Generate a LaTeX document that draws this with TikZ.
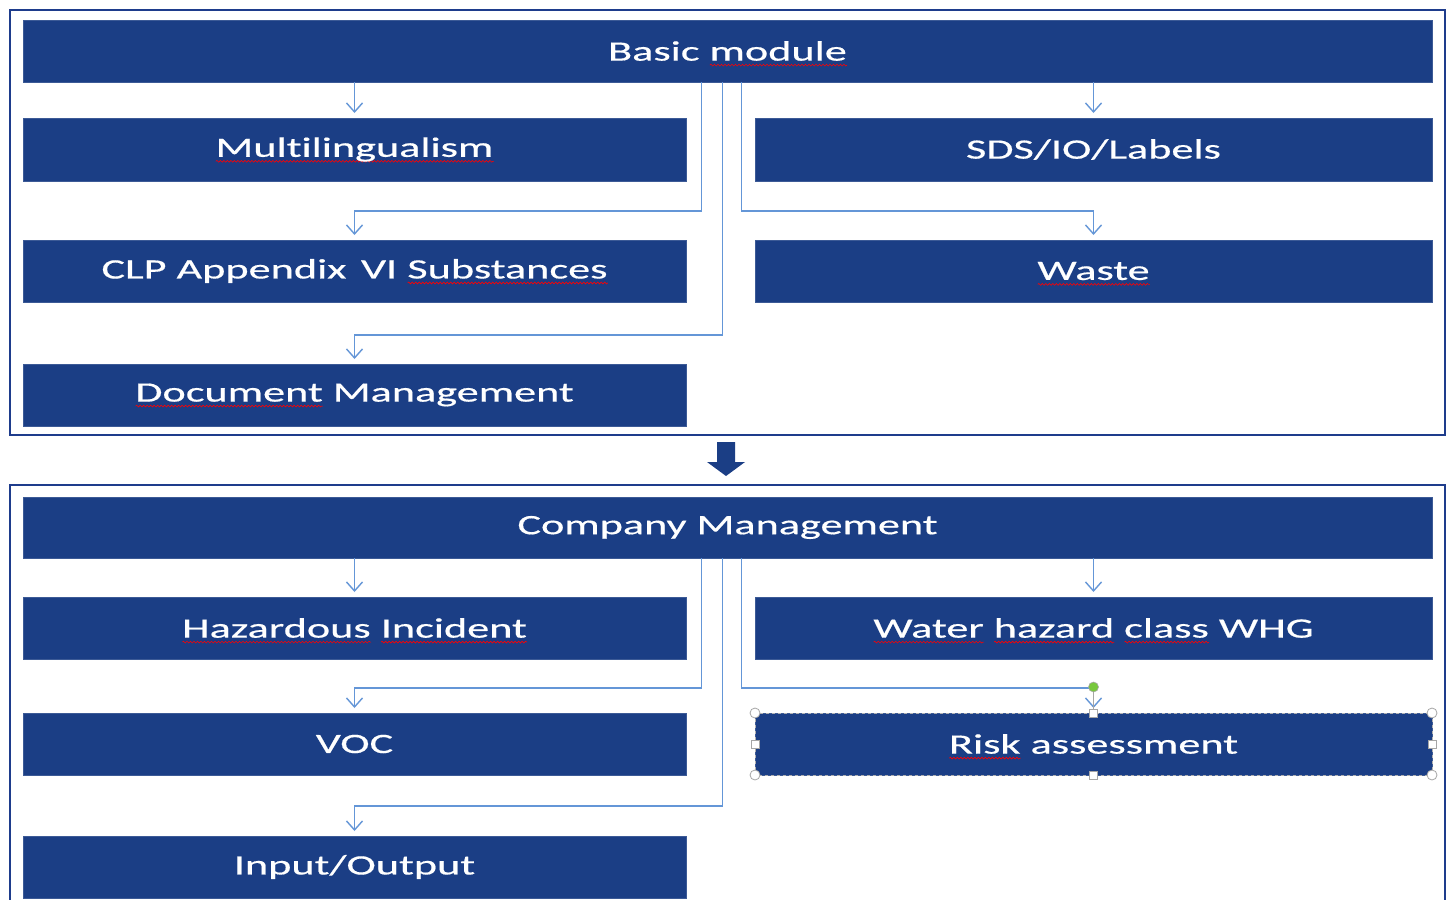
\documentclass[tikz,border=0pt]{standalone}
\usepackage{fontspec}
\usetikzlibrary{arrows.meta,calc,decorations.pathmorphing}
\setmainfont{Carlito}[FakeStretch=1.58, FakeBold=0.5, Ligatures=NoCommon]
\definecolor{boxblue}{RGB}{27,62,133}
\definecolor{boxedge}{RGB}{60,90,150}
\definecolor{frameblue}{RGB}{30,60,140}
\definecolor{connblue}{RGB}{100,150,215}
\definecolor{handlegreen}{RGB}{120,200,60}
\newsavebox\sqbox
\newlength\sqlen
\newcommand\sq[1]{\sbox\sqbox{#1}\setlength\sqlen{\wd\sqbox}\leavevmode\rlap{\smash{\raisebox{-4.5pt}{\tikz[baseline=0pt,x=1cm,y=1cm]\draw[red, line width=0.6pt, decorate, decoration={snake, amplitude=0.9pt, segment length=3.5pt}] (0pt,0pt) -- (\sqlen,0pt);}}}\usebox\sqbox}
\tikzset{
  box/.style={draw=boxedge, fill=boxblue, text=white, inner sep=0pt, outer sep=0pt,
    anchor=north west, line width=0.8pt, font=\fontsize{28}{32}\selectfont},
  conn/.style={draw=connblue, line width=1.4pt, -{Straight Barb[length=9pt,width=16pt]}, shorten >=5pt},
  frame/.style={draw=frameblue, line width=2pt},
  handle/.style={draw=gray!70, fill=white, line width=0.8pt},
}
\begin{document}
\begin{tikzpicture}[x=1pt, y=-1pt]
\clip (0,0) rectangle (1450,899);
\fill[white] (0,0) rectangle (1450,899);
% ---------- upper frame ----------
\draw[frame] (10,10) rectangle (1445,435);
\node[box, minimum width=1409pt, minimum height=62pt] (basic) at (23,20) {Basic \sq{module}};
\node[box, minimum width=663pt, minimum height=63pt] (multi) at (23,118) {\sq{Multilingualism}};
\node[box, minimum width=677pt, minimum height=63pt] (sds) at (755,118) {SDS/IO/Labels};
\node[box, minimum width=663pt, minimum height=62pt] (clp) at (23,240) {CLP Appendix\, VI \sq{Substances}};
\node[box, minimum width=677pt, minimum height=62pt] (waste) at (755,240) {\sq{Waste}};
\node[box, minimum width=663pt, minimum height=62pt] (doc) at (23,364) {\sq{Document} Management};
\draw[conn] (basic.south -| multi.north) -- (multi.north);
\draw[conn] (basic.south -| sds.north) -- (sds.north);
\draw[conn] ([xshift=-26pt]basic.south) -- ++(0,129) -| (clp.north);
\draw[conn] ([xshift=14pt]basic.south) -- ++(0,129) -| (waste.north);
\draw[conn] ([xshift=-5pt]basic.south) -- ++(0,253) -| (doc.north);
% ---------- block arrow between frames ----------
\fill[boxblue] (717,442) -- (735,442) -- (735,462) -- (745,462) -- (726,476)
  -- (707,462) -- (717,462) -- cycle;
% ---------- lower frame ----------
\draw[frame] (10,485) rectangle (1445,940);
\node[box, minimum width=1409pt, minimum height=61pt] (company) at (23,497) {Company Management};
\node[box, minimum width=663pt, minimum height=62pt] (haz) at (23,597) {\sq{Hazardous} \sq{Incident}};
\node[box, minimum width=677pt, minimum height=62pt] (whg) at (755,597) {\sq{Water} \sq{hazard} \sq{class} WHG};
\node[box, minimum width=663pt, minimum height=62pt] (voc) at (23,713) {VOC};
\node[box, minimum width=677pt, minimum height=62pt] (risk) at (755,713) {\sq{Risk} assessment};
\node[box, minimum width=663pt, minimum height=62pt] (io) at (23,836) {Input/Output};
\draw[conn] (company.south -| haz.north) -- (haz.north);
\draw[conn] (company.south -| whg.north) -- (whg.north);
\draw[conn] ([xshift=-26pt]company.south) -- ++(0,130) -| (voc.north);
\draw[conn] ([xshift=14pt]company.south) -- ++(0,130) -| (risk.north);
\draw[conn] ([xshift=-5pt]company.south) -- ++(0,248) -| (io.north);
% ---------- selection handles on Risk assessment ----------
\draw[gray!60, dashed, line width=0.6pt] (risk.north west) rectangle (risk.south east);
\draw[gray!70, line width=0.8pt] (risk.north) -- ++(0,-26);
\fill[handlegreen, draw=gray!70, line width=0.6pt] ($(risk.north)+(0,-26)$) circle (5pt);
\foreach \a in {north west, north east, south west, south east}
  \draw[handle] (risk.\a) circle (5pt);
\foreach \a in {north, south, west, east}
  \draw[handle] ($(risk.\a)+(-4,-4)$) rectangle ++(8,8);
\end{tikzpicture}
\end{document}
